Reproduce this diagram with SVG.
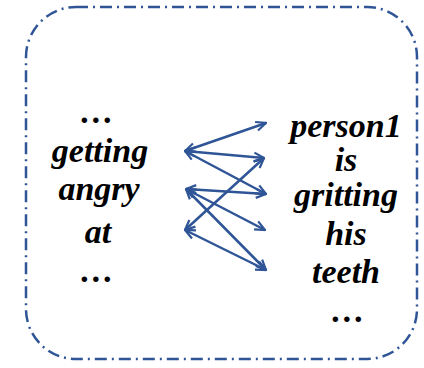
<svg xmlns="http://www.w3.org/2000/svg" width="424" height="368" viewBox="0 0 424 368">
<defs>
<style>
.t{fill:#000;text-anchor:middle}
.e{stroke:#2F5597;stroke-width:2.5;fill:none;marker-start:url(#ah);marker-end:url(#ah)}
</style>
<marker id="ah" viewBox="0 0 12 12" refX="11" refY="6" markerWidth="12" markerHeight="12" markerUnits="userSpaceOnUse" orient="auto-start-reverse">
<path d="M1,1.5 L11,6 L1,10.5" fill="none" stroke="#2F5597" stroke-width="2.2"/>
</marker>
</defs>
<rect x="26" y="7" width="391" height="352" rx="50" ry="50" fill="none" stroke="#2F5597" stroke-width="2.5" stroke-dasharray="12 5 2 5"/>
<g id="left" font-family="Liberation Serif" font-style="italic" font-weight="bold" font-size="34">
<text class="t" x="97" y="123">…</text>
<text class="t" x="100" y="162">getting</text>
<text class="t" x="99" y="200">angry</text>
<text class="t" x="98" y="243">at</text>
<text class="t" x="97" y="282">…</text>
</g>
<g id="right" font-family="Liberation Serif" font-style="italic" font-weight="bold" font-size="34">
<text class="t" x="346" y="137">person1</text>
<text class="t" x="346" y="171">is</text>
<text class="t" x="346" y="206">gritting</text>
<text class="t" x="346" y="245">his</text>
<text class="t" x="346" y="283">teeth</text>
<text class="t" x="348" y="322">…</text>
</g>
<g id="connectors">
<line class="e" x1="185" y1="151" x2="266" y2="123"/>
<line class="e" x1="185" y1="151" x2="264" y2="158"/>
<line class="e" x1="185" y1="151" x2="266" y2="194"/>
<line class="e" x1="186" y1="189" x2="266" y2="194"/>
<line class="e" x1="186" y1="189" x2="265" y2="230"/>
<line class="e" x1="186" y1="189" x2="266" y2="270"/>
<line class="e" x1="185" y1="230" x2="264" y2="158"/>
<line class="e" x1="185" y1="230" x2="266" y2="270"/>
</g>
</svg>
